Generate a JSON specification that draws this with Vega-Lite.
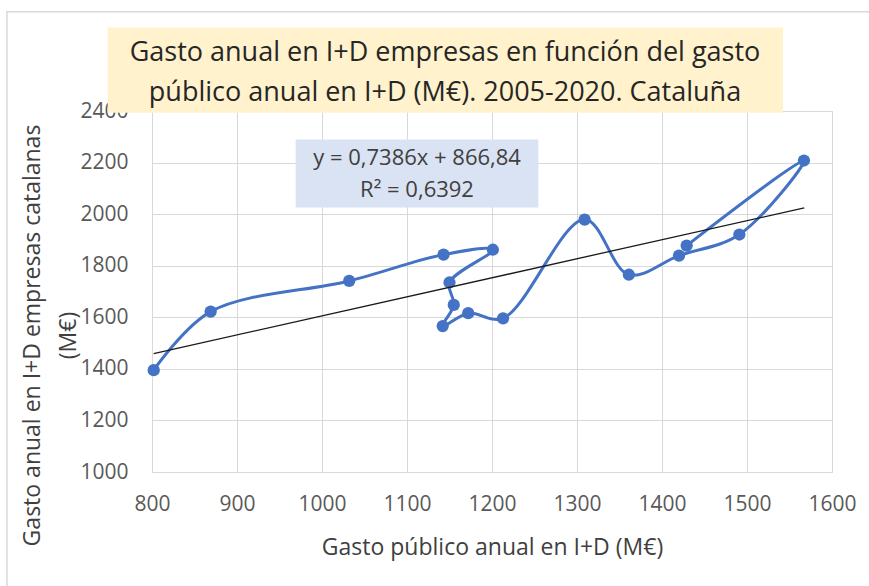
{
  "$schema": "https://vega.github.io/schema/vega-lite/v6.json",
  "width": 680,
  "height": 361,
  "autosize": "none",
  "padding": {"left": 152, "top": 111, "right": 37, "bottom": 114},
  "background": "white",
  "config": {
    "font": "Open Sans",
    "view": {"stroke": "#D9D9D9", "strokeWidth": 1}
  },
  "datasets": {
    "serie": [
      {"year": 2005, "x": 802, "y": 1395},
      {"year": 2006, "x": 869, "y": 1622},
      {"year": 2007, "x": 1032, "y": 1741},
      {"year": 2008, "x": 1143, "y": 1843},
      {"year": 2009, "x": 1201, "y": 1862},
      {"year": 2010, "x": 1150, "y": 1735},
      {"year": 2011, "x": 1155, "y": 1648},
      {"year": 2012, "x": 1142, "y": 1566},
      {"year": 2013, "x": 1172, "y": 1616},
      {"year": 2014, "x": 1213, "y": 1596},
      {"year": 2015, "x": 1309, "y": 1979},
      {"year": 2016, "x": 1361, "y": 1765},
      {"year": 2017, "x": 1420, "y": 1839},
      {"year": 2018, "x": 1491, "y": 1921},
      {"year": 2019, "x": 1567, "y": 2208},
      {"year": 2020, "x": 1429, "y": 1878}
    ],
    "tendencia": [
      {"x": 802, "y": 1459.2},
      {"x": 1567.4, "y": 2024.5}
    ],
    "marco": [{"x": 629.4, "x2": 2100, "y": 2785, "y2": -600}],
    "cajaEcuacion": [{"x": 969, "x2": 1254.5, "y": 2289, "y2": 2026}],
    "textoEcuacion": [
      {"x": 1111.8, "y": 2190, "t": "y = 0,7386x + 866,84"},
      {"x": 1111.8, "y": 2068, "t": "R² = 0,6392"}
    ],
    "cajaTitulo": [{"x": 747.9, "x2": 1542.4, "y": 2724, "y2": 2393.4}],
    "textoTitulo": [
      {"x": 1144.7, "y": 2595, "t": "Gasto anual en I+D empresas en función del gasto"},
      {"x": 1144.7, "y": 2440, "t": "público anual en I+D (M€). 2005-2020. Cataluña"}
    ]
  },
  "encoding": {
    "x": {
      "field": "x",
      "type": "quantitative",
      "scale": {"domain": [800, 1600], "nice": false, "zero": false},
      "axis": {
        "values": [800, 900, 1000, 1100, 1200, 1300, 1400, 1500, 1600],
        "format": "d",
        "labelFlush": false,
        "labelOverlap": false,
        "labelBound": false,
        "title": "Gasto público anual en I+D (M€)",
        "grid": true,
        "gridColor": "#D9D9D9",
        "domain": false,
        "ticks": false,
        "labelPadding": 21,
        "labelFontSize": 21,
        "labelColor": "#595959",
        "titleFontSize": 23,
        "titleFontWeight": "normal",
        "titleColor": "#404040",
        "titlePadding": 22
      }
    },
    "y": {
      "field": "y",
      "type": "quantitative",
      "scale": {"domain": [1000, 2400], "nice": false, "zero": false},
      "axis": {
        "values": [1000, 1200, 1400, 1600, 1800, 2000, 2200, 2400],
        "format": "d",
        "labelFlush": false,
        "labelOverlap": false,
        "labelBound": false,
        "title": ["Gasto anual en I+D empresas catalanas", "(M€)"],
        "grid": true,
        "gridColor": "#D9D9D9",
        "domain": false,
        "ticks": false,
        "labelPadding": 24,
        "labelFontSize": 21,
        "labelColor": "#595959",
        "titleFontSize": 23,
        "titleFontWeight": "normal",
        "titleColor": "#404040",
        "titleX": -120,
        "titleY": 224,
        "titleAngle": -90,
        "titleAlign": "center",
        "titleBaseline": "middle",
        "titleLineHeight": 36
      }
    }
  },
  "layer": [
    {
      "data": {"name": "marco"},
      "mark": {"type": "rect", "fill": null, "fillOpacity": 0, "stroke": "#D9D9D9", "strokeWidth": 1.5, "clip": false},
      "encoding": {"x2": {"field": "x2"}, "y2": {"field": "y2"}}
    },
    {
      "data": {"name": "serie"},
      "mark": {"type": "line", "interpolate": "catmull-rom", "color": "#4472C4", "strokeWidth": 3},
      "encoding": {"order": {"field": "year"}}
    },
    {
      "data": {"name": "serie"},
      "mark": {"type": "point", "filled": true, "size": 150, "color": "#4472C4", "opacity": 1}
    },
    {
      "data": {"name": "tendencia"},
      "mark": {"type": "line", "color": "#1a1a1a", "strokeWidth": 1.3},
      "encoding": {}
    },
    {
      "data": {"name": "cajaEcuacion"},
      "mark": {"type": "rect", "fill": "#DAE3F3", "clip": false},
      "encoding": {"x2": {"field": "x2"}, "y2": {"field": "y2"}}
    },
    {
      "data": {"name": "textoEcuacion"},
      "mark": {"type": "text", "fontSize": 22, "color": "#404040", "align": "center", "baseline": "alphabetic", "clip": false},
      "encoding": {"text": {"field": "t"}}
    },
    {
      "data": {"name": "cajaTitulo"},
      "mark": {"type": "rect", "fill": "#FFF2CC", "clip": false},
      "encoding": {"x2": {"field": "x2"}, "y2": {"field": "y2"}}
    },
    {
      "data": {"name": "textoTitulo"},
      "mark": {"type": "text", "fontSize": 27, "color": "#262626", "align": "center", "baseline": "alphabetic", "clip": false},
      "encoding": {"text": {"field": "t"}}
    }
  ]
}
